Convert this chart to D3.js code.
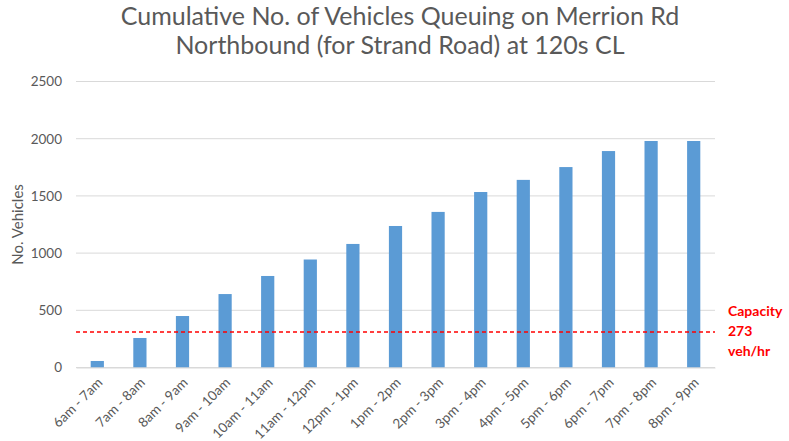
<!DOCTYPE html>
<html>
<head>
<meta charset="utf-8">
<script src="https://cdn.jsdelivr.net/npm/d3@7"></script>
<style>
  body { margin: 0; background: #fff; }
  text { font-family: Lato, "Open Sans", sans-serif; }
</style>
</head>
<body>
<script>
// DATA
//
var periods = ["6am - 7am", "7am - 8am", "8am - 9am", "9am - 10am", "10am - 11am",
  "11am - 12pm", "12pm - 1pm", "1pm - 2pm", "2pm - 3pm", "3pm - 4pm", "4pm - 5pm",
  "5pm - 6pm", "6pm - 7pm", "7pm - 8pm", "8pm - 9pm"];
var vehicles = [57, 258, 450, 642, 800, 944, 1080, 1237, 1360, 1534, 1640, 1752, 1892, 1980, 1980];
var yTicks = [0, 500, 1000, 1500, 2000, 2500];
var capacityLine = 310;
var capacityLabel = ["Capacity", "273", "veh/hr"];
var titleLines = ["Cumulative No. of Vehicles Queuing on Merrion Rd",
  "Northbound (for Strand Road) at 120s CL"];

var width = 789, height = 441;
var margin = { left: 76, right: 74, top: 81.5, bottom: 73.5 };

var svg = d3.select("body").append("svg")
  .attr("width", width)
  .attr("height", height);

var x = d3.scaleBand()
  .domain(periods)
  .range([margin.left, width - margin.right])
  .paddingInner(0.69)
  .paddingOuter(0.345);

var y = d3.scaleLinear()
  .domain([0, 2500])
  .range([height - margin.bottom, margin.top]);

// GRIGLIA
//
svg.append("g")
  .selectAll("line")
  .data(yTicks)
  .enter().append("line")
  .attr("x1", margin.left)
  .attr("x2", width - margin.right)
  .attr("y1", d => y(d))
  .attr("y2", d => y(d))
  .attr("stroke", "#d9d9d9")
  .attr("stroke-width", 1);

// ASSE Y
//
var yAxis = svg.append("g")
  .attr("transform", "translate(" + (margin.left - 14) + ",0)")
  .call(d3.axisLeft(y).tickValues(yTicks).tickFormat(d3.format("d")).tickSize(0).tickPadding(0));
yAxis.select(".domain").remove();
yAxis.selectAll("text")
  .attr("fill", "#595959")
  .style("font-size", "13.5px");

svg.append("text")
  .attr("transform", "translate(23," + y(1250) + ") rotate(-90)")
  .attr("text-anchor", "middle")
  .attr("fill", "#595959")
  .style("font-size", "15px")
  .text("No. Vehicles");

// BARRE
//
svg.append("g")
  .selectAll("rect")
  .data(vehicles)
  .enter().append("rect")
  .attr("x", (d, i) => x(periods[i]))
  .attr("y", d => y(d))
  .attr("width", x.bandwidth())
  .attr("height", d => y(0) - y(d))
  .attr("fill", "#5b9bd5");

// ASSE X
//
var xAxis = svg.append("g")
  .attr("transform", "translate(0," + y(0) + ")")
  .call(d3.axisBottom(x).tickSize(0).tickPadding(0));
xAxis.select(".domain").attr("stroke", "#d9d9d9");
xAxis.selectAll("text")
  .attr("fill", "#595959")
  .style("font-size", "13.5px")
  .attr("text-anchor", "end")
  .attr("dy", "0")
  .attr("transform", "translate(6,16) rotate(-45)");

// LINEA CAPACITA'
//
svg.append("line")
  .attr("x1", margin.left)
  .attr("x2", width - margin.right)
  .attr("y1", y(capacityLine))
  .attr("y2", y(capacityLine))
  .attr("stroke", "#ff0000")
  .attr("stroke-width", 1.5)
  .attr("stroke-dasharray", "4,3");

svg.append("g")
  .selectAll("text")
  .data(capacityLabel)
  .enter().append("text")
  .attr("x", 728)
  .attr("y", (d, i) => 316 + i * 20)
  .attr("fill", "#ff0000")
  .style("font-size", "14px")
  .style("font-weight", "bold")
  .text(d => d);

// TITOLO
//
svg.append("g")
  .selectAll("text")
  .data(titleLines)
  .enter().append("text")
  .attr("x", 400)
  .attr("y", (d, i) => 25 + i * 29)
  .attr("text-anchor", "middle")
  .attr("fill", "#595959")
  .style("font-size", "25px")
  .text(d => d);
</script>
</body>
</html>
